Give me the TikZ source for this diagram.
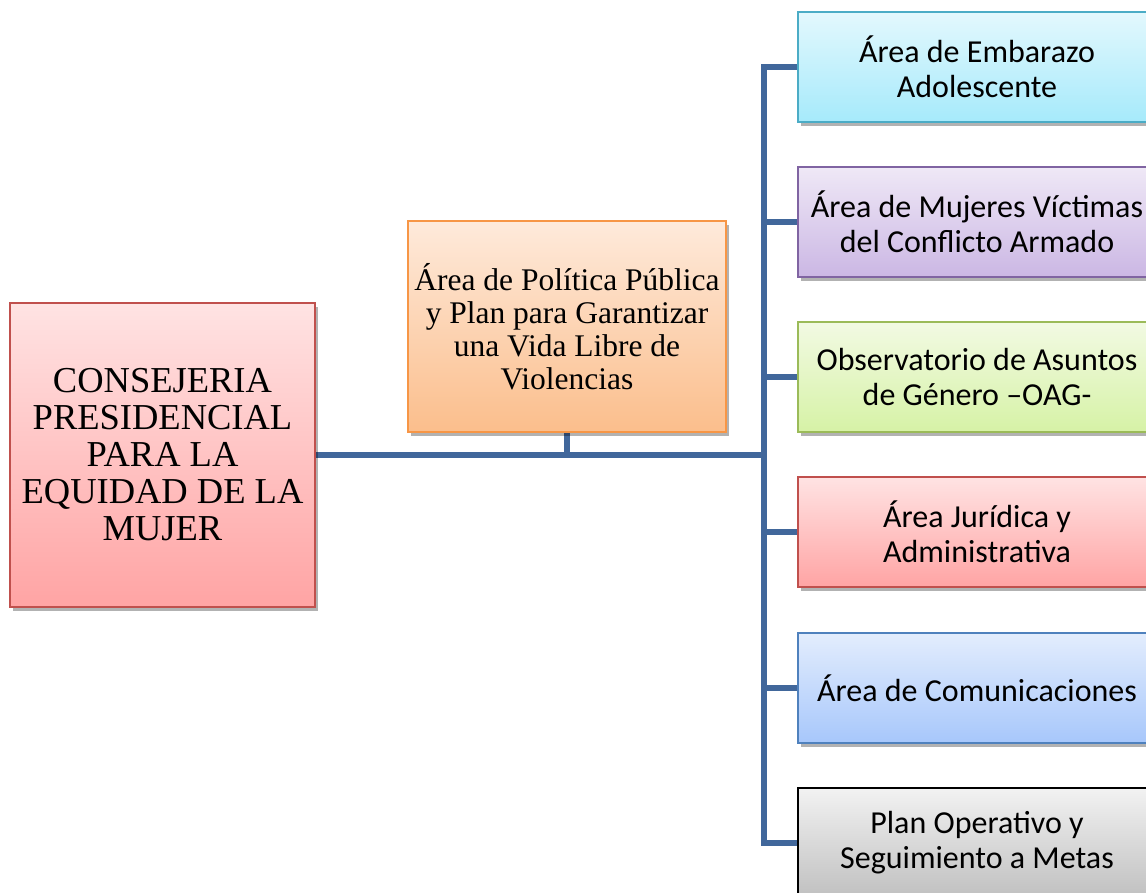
\documentclass[tikz,border=0pt]{standalone}
\usepackage{fontspec}
\setmainfont{Liberation Serif}
\newfontfamily\calibrifont{Carlito}
\usetikzlibrary{shadows,backgrounds}
\definecolor{cLine}{HTML}{41679B}
\definecolor{cCyanB}{HTML}{4BACC6}
\definecolor{cPurpB}{HTML}{8064A2}
\definecolor{cGrnB}{HTML}{9BBB59}
\definecolor{cRedB}{HTML}{C0504D}
\definecolor{cBluB}{HTML}{4F81BD}
\definecolor{cOrgB}{HTML}{F79646}
\definecolor{cCyanT}{HTML}{E3F8FD}
\definecolor{cCyanF}{HTML}{A6EAFB}
\definecolor{cPurpT}{HTML}{EFE8F6}
\definecolor{cPurpF}{HTML}{CBB7E4}
\definecolor{cGrnT}{HTML}{F2FAE3}
\definecolor{cGrnF}{HTML}{D6F2A6}
\definecolor{cRedT}{HTML}{FFE3E3}
\definecolor{cRedF}{HTML}{FFA4A4}
\definecolor{cBluT}{HTML}{E3EDFD}
\definecolor{cBluF}{HTML}{A7C7FB}
\definecolor{cGryT}{HTML}{F2F2F2}
\definecolor{cGryF}{HTML}{C0C0C0}
\definecolor{cOrgT}{HTML}{FEEADB}
\definecolor{cOrgF}{HTML}{FBBE8C}
\tikzset{
  box/.style={rectangle,line width=1.3pt,inner sep=0pt,align=center,
    drop shadow={shadow xshift=2.5pt,shadow yshift=-3.5pt,opacity=.3,fill=black}},
  serifbox/.style={box,font=\fontsize{36.5}{37}\selectfont},
  polbox/.style={box,font=\fontsize{31.5}{33}\selectfont},
  unit/.style={box,minimum width=358pt,minimum height=110pt,
    font=\calibrifont\fontsize{32}{35}\selectfont},
  conn/.style={line width=5.5pt,cLine,line join=miter},
}
\begin{document}
\begin{tikzpicture}[x=1pt,y=-1pt]
  \clip (0,0) rectangle (1146,892);
  % head and policy area
  \node[serifbox,minimum width=305pt,minimum height=304pt,draw=cRedB,
    top color=cRedT,bottom color=cRedF] (main) at (162.5,455)
    {CONSEJERIA\\PRESIDENCIAL\\PARA LA\\EQUIDAD DE LA\\MUJER};
  \node[polbox,minimum width=318pt,minimum height=211pt,draw=cOrgB,
    top color=cOrgT,bottom color=cOrgF] (pol) at (567,326.5)
    {\'Area de Pol\'itica P\'ublica\\y Plan para Garantizar\\una Vida Libre de\\Violencias};
  % units on the right
  \node[unit,draw=cCyanB,top color=cCyanT,bottom color=cCyanF] (a1) at (977,67)
    {\'Area de Embarazo\\Adolescente};
  \node[unit,draw=cPurpB,top color=cPurpT,bottom color=cPurpF] (a2) at (977,222)
    {\'Area de Mujeres V\'ictimas\\del Conflicto Armado};
  \node[unit,draw=cGrnB,top color=cGrnT,bottom color=cGrnF] (a3) at (977,377)
    {Observatorio de Asuntos\\de G\'enero –OAG-};
  \node[unit,draw=cRedB,top color=cRedT,bottom color=cRedF] (a4) at (977,532)
    {\'Area Jur\'idica y\\Administrativa};
  \node[unit,draw=cBluB,top color=cBluT,bottom color=cBluF] (a5) at (977,688)
    {\'Area de Comunicaciones};
  \node[unit,draw=black,top color=cGryT,bottom color=cGryF] (a6) at (977,843)
    {Plan Operativo y\\Seguimiento a Metas};
  \coordinate (tr) at (764,0);
  % connectors
  \begin{scope}[on background layer]
    \fill[white] (0,0) rectangle (1146,892);
    \draw[conn] (main.east) -- (main.east -| tr);
    \draw[conn] (pol.south) -- (pol.south |- main.east);
    \draw[conn] (a1.west) -- (tr |- a1.west) -- (tr |- a6.west) -- (a6.west);
    \foreach \u in {a2,a3,a4,a5}
      \draw[conn] (tr |- \u.west) -- (\u.west);
  \end{scope}
\end{tikzpicture}
\end{document}
